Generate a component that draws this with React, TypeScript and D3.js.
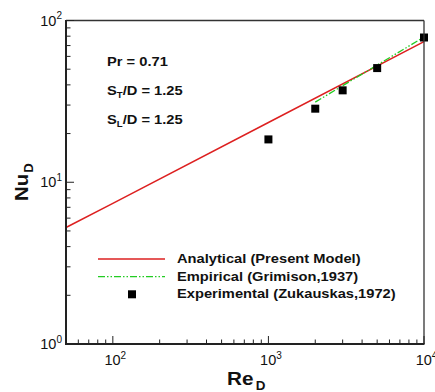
import React from "react";
import * as d3 from "d3";

const reAnalytical = [50, 100, 1000, 10000];
const nuAnalytical = [5.25, 7.4, 23.4, 74];
const reEmpirical = [2000, 5000, 10000];
const nuEmpirical = [31.3, 53, 79];
const reExperimental = [1000, 2000, 3000, 5000, 10000];
const nuExperimental = [18.4, 28.5, 37, 50.8, 78.5];
const xTickExps = [2, 3, 4];
const yTickExps = [0, 1, 2];
const legendLabels = [
  "Analytical (Present Model)",
  "Empirical (Grimison,1937)",
  "Experimental (Zukauskas,1972)",
];
const annotations = [
  { main: "Pr = 0.71", sub: "", rest: "" },
  { main: "S", sub: "T", rest: "/D = 1.25" },
  { main: "S", sub: "L", rest: "/D = 1.25" },
];

const W = 435, H = 392;
const L = 66, R = 424, T = 20.5, B = 344;
const FONT = "Liberation Sans, Arial, Helvetica, sans-serif";
const RED = "#dd2020";
const GREEN = "#22cc22";
const SX = 1.13;

export default function App() {
  const x = d3.scaleLog().domain([50, 10000]).range([L, R]);
  const y = d3.scaleLog().domain([1, 100]).range([B, T]);
  const anaPts = reAnalytical.map((r, i) => [x(r), y(nuAnalytical[i])] as [number, number]);
  const empPts = reEmpirical.map((r, i) => [x(r), y(nuEmpirical[i])] as [number, number]);
  const lineGen = d3.line<[number, number]>().x((d) => d[0]).y((d) => d[1]);

  const xMinor: number[] = [];
  for (let e = 1; e <= 3; e++) for (let k = 2; k <= 9; k++) {
    const v = k * Math.pow(10, e);
    if (v >= 50 && v <= 10000) xMinor.push(v);
  }
  const yMinor: number[] = [];
  for (let e = 0; e <= 1; e++) for (let k = 2; k <= 9; k++) yMinor.push(k * Math.pow(10, e));

  const legY = [259, 276.7, 294.3];
  const dash = "7,2,1.5,2,1.5,2";
  return (
    <svg width={W} height={H} style={{ position: "absolute", left: 0, top: 0, background: "#fff" }} fontFamily={FONT}>
      <rect x={0} y={0} width={W} height={H} fill="#fff" />
      {/* data lines */}
      <path d={lineGen(anaPts) || ""} fill="none" stroke={RED} strokeWidth={1.5} />
      <path d={lineGen(empPts) || ""} fill="none" stroke={GREEN} strokeWidth={1.3} strokeDasharray={dash} />
      {reExperimental.map((r, i) => (
        <rect key={i} x={x(r) - 4} y={y(nuExperimental[i]) - 4} width={8} height={8} fill="#000" />
      ))}
      {/* frame */}
      <line x1={L} y1={T} x2={R} y2={T} stroke="#333" strokeWidth={1.3} />
      <line x1={R} y1={T} x2={R} y2={B} stroke="#333" strokeWidth={1.3} />
      <line x1={L} y1={T - 0.5} x2={L} y2={B + 1} stroke="#222" strokeWidth={2} />
      <line x1={L - 1} y1={B} x2={R + 0.5} y2={B} stroke="#222" strokeWidth={2} />
      {/* x ticks */}
      {xTickExps.map((e) => (
        <line key={"xm" + e} x1={x(Math.pow(10, e))} x2={x(Math.pow(10, e))} y1={B} y2={B - 8} stroke="#222" strokeWidth={1} />
      ))}
      {xMinor.map((v) => (
        <line key={"xn" + v} x1={x(v)} x2={x(v)} y1={B} y2={B - 4.5} stroke="#222" strokeWidth={1} />
      ))}
      {yTickExps.map((e) => (
        <line key={"ym" + e} x1={L} x2={L + 8} y1={y(Math.pow(10, e))} y2={y(Math.pow(10, e))} stroke="#222" strokeWidth={1} />
      ))}
      {yMinor.map((v) => (
        <line key={"yn" + v} x1={L} x2={L + 4.5} y1={y(v)} y2={y(v)} stroke="#222" strokeWidth={1} />
      ))}
      {/* tick labels */}
      {xTickExps.map((e) => (
        <text key={"xl" + e} x={x(Math.pow(10, e)) + 2.5} y={365} textAnchor="middle" fontSize={14.5} fill="#111">
          10<tspan dy={-6.5} fontSize={10}>{e}</tspan>
        </text>
      ))}
      {yTickExps.map((e) => (
        <text key={"yl" + e} x={62} y={y(Math.pow(10, e)) + 5} textAnchor="end" fontSize={14.5} fill="#111">
          10<tspan dy={-6.5} fontSize={10}>{e}</tspan>
        </text>
      ))}
      {/* axis titles */}
      <g transform="translate(227,385) scale(1.12,1)">
        <text x={0} y={0} fontSize={18.5} fontWeight="bold" fill="#111">
          Re<tspan dx={2} dy={5} fontSize={12}>D</tspan>
        </text>
      </g>
      <g transform="translate(27.5,201) rotate(-90) scale(1.1,1)">
        <text x={0} y={0} fontSize={18.5} fontWeight="bold" fill="#111">
          Nu<tspan dx={1} dy={5} fontSize={12}>D</tspan>
        </text>
      </g>
      {/* annotations */}
      {annotations.map((a, i) => (
        <g key={"an" + i} transform={`translate(107,${65.5 + i * 29}) scale(${SX},1)`}>
          <text x={0} y={0} fontSize={13} fontWeight="bold" fill="#111">
            {a.main}
            {a.sub ? <tspan dy={3} fontSize={8.5}>{a.sub}</tspan> : null}
            {a.sub ? <tspan dy={-3}>{a.rest}</tspan> : null}
          </text>
        </g>
      ))}
      {/* legend */}
      <line x1={98} x2={165} y1={legY[0]} y2={legY[0]} stroke={RED} strokeWidth={1.5} />
      <line x1={98} x2={165} y1={legY[1]} y2={legY[1]} stroke={GREEN} strokeWidth={1.3} strokeDasharray={dash} />
      <rect x={128} y={legY[2] - 4} width={8} height={8} fill="#000" />
      {legendLabels.map((s, i) => (
        <g key={"lg" + i} transform={`translate(177,${legY[i] + 4}) scale(${SX},1)`}>
          <text x={0} y={0} fontSize={13} fontWeight="bold" fill="#111">{s}</text>
        </g>
      ))}
    </svg>
  );
}
